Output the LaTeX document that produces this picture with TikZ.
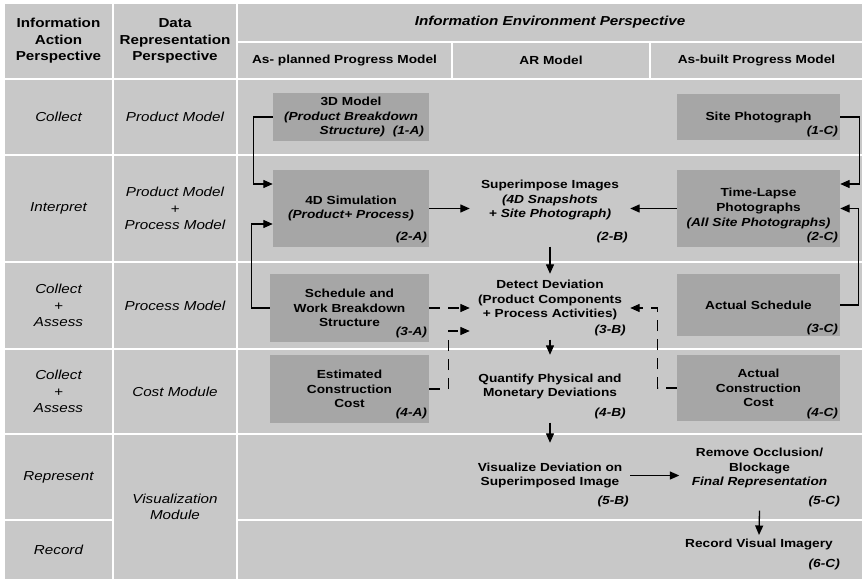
\documentclass[tikz,border=0pt]{standalone}
\usepackage{fontspec}
\setmainfont{Liberation Sans}[FakeStretch=1.17]
\usepackage{tikz}
\usetikzlibrary{arrows.meta}
\definecolor{cellgray}{RGB}{200,200,200}
\definecolor{boxgray}{RGB}{166,166,166}
\newcommand{\bodyfont}{\fontsize{11.7}{14.8}\selectfont}
\newcommand{\headfont}{\fontsize{13}{16.4}\selectfont}

\begin{document}
\begin{tikzpicture}[x=1pt,y=-1pt,>={Triangle[length=9.5pt,width=8pt]},
  cell/.style={draw=white,line width=2pt,fill=cellgray,inner sep=0pt,align=center},
  hd/.style={cell,font=\headfont\bfseries},
  lb/.style={cell,font=\headfont\itshape},
  subhd/.style={cell,font=\bodyfont\bfseries},
  pbox/.style={fill=boxgray,align=center,text width=146pt,inner xsep=5pt,font=\bodyfont\bfseries},
  ptxt/.style={align=center,text width=150pt,inner xsep=5pt,font=\bodyfont\bfseries},
  codetag/.style={anchor=south east,inner xsep=2pt,inner ysep=4pt,font=\bodyfont\bfseries\itshape},
  con/.style={->,line width=1.3pt},
  dcon/.style={con,dash pattern=on 11pt off 8pt}]
  \fill[white] (0,0) rectangle (866,581);
  \useasboundingbox (0,0) rectangle (866,581);

  % header row
  \node[hd,minimum width=109pt,minimum height=76pt] at (58.5,41) (IAP) {Information\\Action\\Perspective};
  \node[hd,minimum width=124pt,minimum height=76pt] at (175,41) (DRP) {Data\\Representation\\Perspective};
  \node[hd,minimum width=626pt,minimum height=39pt] at (550,22.5) (IEP) {\itshape Information Environment Perspective};
  \node[subhd,minimum width=215pt,minimum height=37pt] at (344.5,60.5) (ASP) {As- planned Progress Model};
  \node[subhd,minimum width=198pt,minimum height=37pt] at (551,60.5) (ARM) {AR Model};
  \node[subhd,minimum width=213pt,minimum height=37pt] at (756.5,60.5) (ASB) {As-built Progress Model};

  % information action column
  \node[lb,minimum width=109pt,minimum height=76pt] at (58.5,117) (IA1) {Collect};
  \node[lb,minimum width=109pt,minimum height=107pt] at (58.5,208.5) (IA2) {Interpret};
  \node[lb,minimum width=109pt,minimum height=87pt] at (58.5,305.5) (IA3) {Collect\\+\\Assess};
  \node[lb,minimum width=109pt,minimum height=85pt] at (58.5,391.5) (IA4) {Collect\\+\\Assess};
  \node[lb,minimum width=109pt,minimum height=86pt] at (58.5,477) (IA5) {Represent};
  \node[lb,minimum width=109pt,minimum height=60pt] at (58.5,550) (IA6) {Record};

  % data representation column
  \node[lb,minimum width=124pt,minimum height=76pt] at (175,117) (DR1) {Product Model};
  \node[lb,minimum width=124pt,minimum height=107pt] at (175,208.5) (DR2) {Product Model\\+\\Process Model};
  \node[lb,minimum width=124pt,minimum height=87pt] at (175,305.5) (DR3) {Process Model};
  \node[lb,minimum width=124pt,minimum height=85pt] at (175,391.5) (DR4) {Cost Module};
  \node[lb,minimum width=124pt,minimum height=146pt] at (175,507) (DR5) {Visualization\\Module};

  % information environment rows
  \node[cell,minimum width=626pt,minimum height=76pt] at (550,117) (IE1) {};
  \node[cell,minimum width=626pt,minimum height=107pt] at (550,208.5) (IE2) {};
  \node[cell,minimum width=626pt,minimum height=87pt] at (550,305.5) (IE3) {};
  \node[cell,minimum width=626pt,minimum height=85pt] at (550,391.5) (IE4) {};
  \node[cell,minimum width=626pt,minimum height=86pt] at (550,477) (IE5) {};
  \node[cell,minimum width=626pt,minimum height=60pt] at (550,550) (IE6) {};

  % as-planned
  \node[pbox,minimum width=156pt,minimum height=46pt] at (351,117) (A1)
	{3D Model\\\textit{(Product Breakdown}\\\hfill\textit{Structure)\ \ (1-A)}};
  \node[pbox,minimum width=156pt,minimum height=77pt] at (351,208.5) (A2)
	{4D Simulation\\\textit{(Product+ Process)}};
  \node[codetag] at (A2.south east) (T2A) {(2-A)};
  \node[pbox,minimum width=159pt,minimum height=68pt] at (349.5,308) (A3)
	{Schedule and\\Work Breakdown\\Structure};
  \node[codetag] at (A3.south east) (T3A) {(3-A)};
  \node[pbox,minimum width=159pt,minimum height=68pt] at (349.5,389) (A4)
	{Estimated\\Construction\\Cost};
  \node[codetag] at (A4.south east) (T4A) {(4-A)};

  % as-built
  \node[pbox,minimum width=163pt,minimum height=46pt] at (758.5,117) (C1) {Site Photograph};
  \node[codetag,inner ysep=3pt] at (C1.south east) (T1C) {(1-C)};
  \node[pbox,minimum width=163pt,minimum height=77pt] at (758.5,208.5) (C2)
	{Time-Lapse\\Photographs\\\textit{(All Site Photographs)}};
  \node[codetag] at (C2.south east) (T2C) {(2-C)};
  \node[pbox,minimum width=163pt,minimum height=62pt] at (758.5,305) (C3) {Actual Schedule};
  \node[codetag,inner ysep=1pt] at (C3.south east) (T3C) {(3-C)};
  \node[pbox,minimum width=163pt,minimum height=66pt] at (758.5,388) (C4)
	{Actual\\Construction\\Cost};
  \node[codetag,inner ysep=2pt] at (C4.south east) (T4C) {(4-C)};

  % AR model
  \node[ptxt] at (550,200) (B2) {Superimpose Images\\\textit{(4D Snapshots}\\\textit{+ Site Photograph)}};
  \node[codetag,anchor=east] at (630,237) (T2B) {(2-B)};
  \node[ptxt] at (550,300) (B3) {Detect Deviation\\(Product Components\\+ Process Activities)};
  \node[codetag,anchor=east] at (628,330) (T3B) {(3-B)};
  \node[ptxt] at (550,386.5) (B4) {Quantify Physical and\\Monetary Deviations};
  \node[codetag,anchor=east] at (628,413) (T4B) {(4-B)};
  \node[ptxt,minimum height=65pt] at (550,475.5) (B5) {Visualize Deviation on\\Superimposed Image};
  \node[codetag,anchor=east] at (631,501) (T5B) {(5-B)};
  \node[ptxt] at (759.5,468) (C5) {Remove Occlusion/\\Blockage\\\textit{Final Representation}};
  \node[codetag,anchor=east] at (842,501) (T5C) {(5-C)};
  \node[ptxt] at (759,544) (C6) {Record Visual Imagery};
  \node[codetag,anchor=east] at (842,564) (T6C) {(6-C)};

  % connectors
  \draw[con] (A1.west) -- ++(-19,0) |- ([yshift=24.5pt]A2.west);
  \draw[con] (A3.west) -- ++(-18,0) |- ([yshift=-15.5pt]A2.west);
  \draw[con] (C1.east) -- ++(19,0) |- ([yshift=24.5pt]C2.east);
  \draw[con] (C3.east) -- ++(18,0) |- (C2.east);
  \draw[con] (A2.east) -- (A2.east -| B2.west);
  \draw[con] (C2.west) -- (C2.west -| B2.east);
  \draw[con] (T2B.south -| B2) -- (B2 |- A3.north);
  \draw[con] (T3B.south -| B3) -- (B3 |- A4.north);
  \draw[con] (T4B.south -| B4) -- (B5.north);
  \draw[con] (B5.east) -- (B5.east -| C5.west);
  \draw[con] (T5C.south -| C5) -- (C6.north);
  \draw[dcon] (A3.east) -- (A3.east -| B3.west);
  \draw[dcon] (A4.east) -- ++(19,0) |- ([yshift=-31pt]B3.west);
  \draw[dcon] (C4.west) -- ++(-19,0) |- ([yshift=-8pt]B3.east);
\end{tikzpicture}
\end{document}
